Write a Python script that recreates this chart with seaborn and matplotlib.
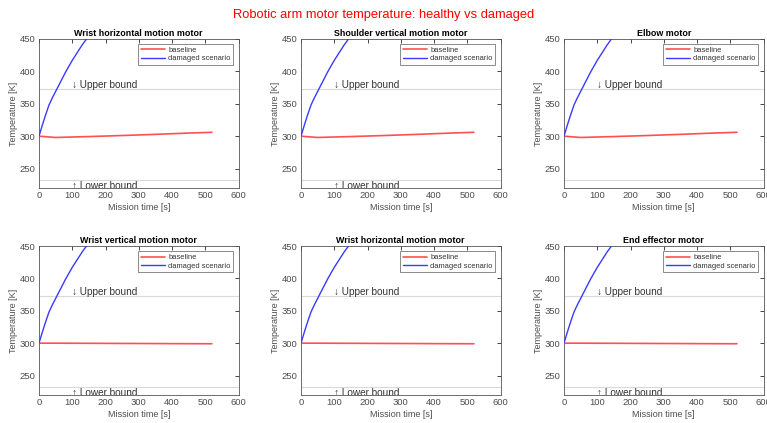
import matplotlib
matplotlib.use("Agg")
import matplotlib.pyplot as plt
import seaborn as sns

sns.set_style("white")
plt.rcParams['font.family'] = ['Liberation Sans', 'DejaVu Sans']

# ---- data ----
titles = ["Wrist horizontal motion motor", "Shoulder vertical motion motor", "Elbow motor",
          "Wrist vertical motion motor", "Wrist horizontal motion motor", "End effector motor"]

t_damaged = [0, 10, 20, 30, 40, 50, 60, 70, 80, 90, 100, 110, 120, 130, 140, 150, 160]
T_damaged = [300, 317, 333, 348, 359, 369, 379, 389, 399, 408, 417, 425, 433, 441, 448, 455, 462]

t_base = [0, 25, 50, 100, 150, 200, 250, 300, 350, 400, 450, 520]
T_base_top = [300, 299, 298, 298.7, 299.4, 300.2, 301.0, 301.9, 302.8, 303.8, 304.8, 306.0]
T_base_bottom = [300, 300, 300, 299.9, 299.8, 299.7, 299.6, 299.5, 299.4, 299.3, 299.2, 299.1]

upper_bound = 373
lower_bound = 233
show_lower_text = [True, True, False, True, True, True]

W, H = 767, 423
fig = plt.figure(figsize=(W / 100, H / 100), dpi=100)

col_left = [39, 301, 564]
row_top = [39, 246]
aw, ah = 199.5, 149

txtc = '#262626'
for i in range(6):
    r, c = divmod(i, 3)
    ax = fig.add_axes([col_left[c] / W, 1 - (row_top[r] + ah) / H, aw / W, ah / H])
    base = T_base_top if r == 0 else T_base_bottom
    ax.axhline(upper_bound, color='#d9d9d9', lw=0.8, zorder=1)
    ax.axhline(lower_bound, color='#d9d9d9', lw=0.8, zorder=1)
    sns.lineplot(x=t_base, y=base, ax=ax, color='#ff5050', lw=1.2, label='baseline', zorder=3)
    sns.lineplot(x=t_damaged, y=T_damaged, ax=ax, color='#3a3aff', lw=1.0, label='damaged scenario', zorder=3)
    ax.set_xlim(0, 600)
    ax.set_ylim(220, 450)
    ax.set_xticks(range(0, 601, 100))
    ax.set_yticks([250, 300, 350, 400, 450])
    ax.tick_params(direction='in', length=3, width=0.6, top=True, right=True,
                   labelsize=6.8, colors=txtc, pad=2.5)
    ax.tick_params(axis='both', labelcolor='#4d4d4d')
    for s in ax.spines.values():
        s.set_color('#555555')
        s.set_linewidth(0.6)
    ax.set_title(titles[i], fontsize=6.4, fontweight='bold', color='black', pad=2.5)
    ax.set_xlabel('Mission time [s]', fontsize=6.5, color='#4d4d4d', labelpad=2)
    ax.set_ylabel('Temperature [K]', fontsize=6.5, color='#4d4d4d', labelpad=1)
    ax.text(100, upper_bound - 1, '\u2193 Upper bound', fontsize=7.2, color='#333333', va='bottom', ha='left')
    if show_lower_text[i]:
        ax.text(100, lower_bound - 1.5, '\u2191 Lower bound', fontsize=7.2, color='#333333',
                va='top', ha='left', clip_on=True)
    leg = ax.legend(loc='upper right', fontsize=5.4, frameon=True, fancybox=False,
                    handlelength=3.2, borderpad=0.35, labelspacing=0.15,
                    borderaxespad=0.7, handletextpad=0.5)
    leg.get_frame().set_edgecolor('#555555')
    leg.get_frame().set_linewidth(0.6)
    for t in leg.get_texts():
        t.set_color('#333333')

fig.text(384 / W, 1 - 15 / H, 'Robotic arm motor temperature: healthy vs damaged',
         color='red', fontsize=9.3, ha='center', va='center')

fig.savefig('out.png', dpi=100)
